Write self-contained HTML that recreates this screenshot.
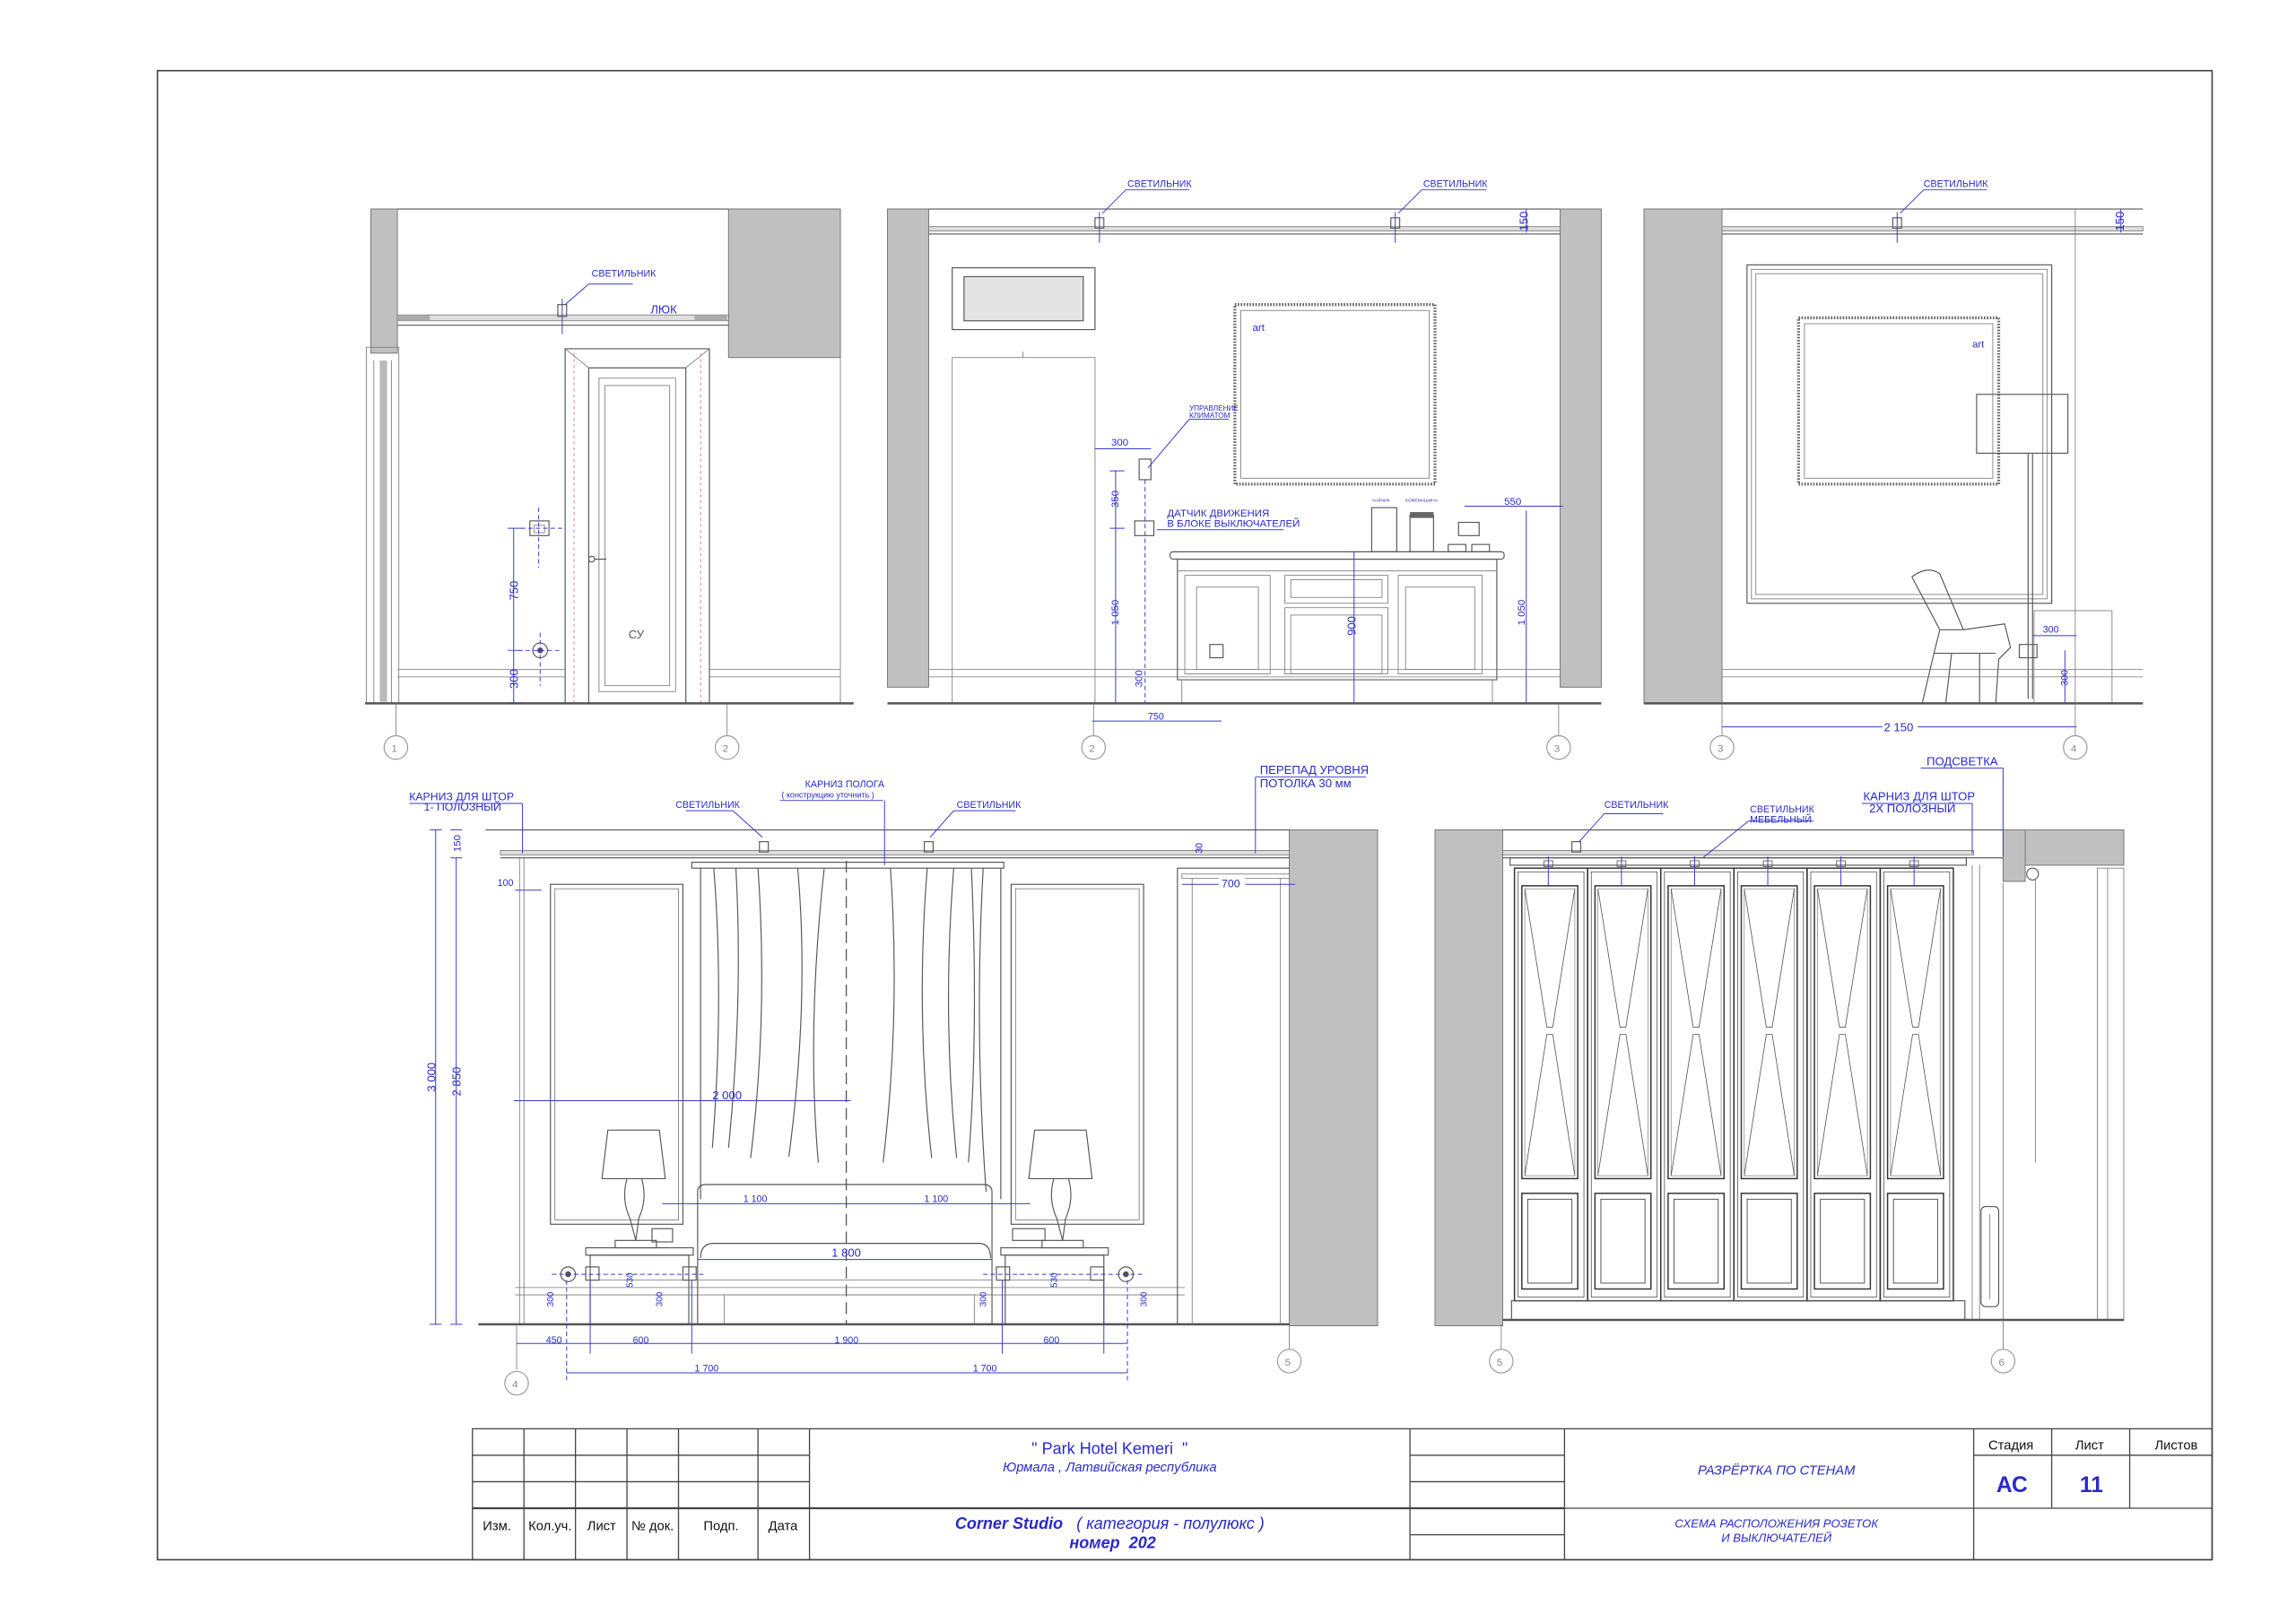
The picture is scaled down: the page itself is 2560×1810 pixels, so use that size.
<!DOCTYPE html>
<html><head><meta charset="utf-8">
<style>
html,body{margin:0;padding:0;background:#fff;}
svg{display:block;}
text{font-family:"Liberation Sans",sans-serif;}
.b{fill:#2a2ac8;}
.l{stroke:#555;stroke-width:0.7;fill:none;}
.t{stroke:#777;stroke-width:0.5;fill:none;}
.g{fill:#c0c0c0;stroke:#777;stroke-width:0.6;}
.d{stroke:#3a3ad0;stroke-width:0.6;fill:none;}
.dd{stroke:#3a3ad0;stroke-width:0.6;fill:none;stroke-dasharray:3 2;}
.c{fill:#fff;stroke:#999;stroke-width:0.7;}
.k{stroke:#333;stroke-width:1;fill:none;}
</style></head>
<body>
<svg width="2560" height="1810" viewBox="0 0 1560 1103" preserveAspectRatio="none" xmlns="http://www.w3.org/2000/svg">
<rect x="0" y="0" width="1560" height="1103" fill="#fff"/>
<!-- frame -->
<rect x="107" y="48" width="1396" height="1012" fill="none" stroke="#444" stroke-width="1"/>

<!-- ============ ELEVATION 1 ============ -->
<g>
<rect class="g" x="252" y="142" width="18" height="98"/>
<rect class="g" x="495" y="142" width="76" height="101"/>
<line class="l" x1="270" y1="142" x2="495" y2="142"/>
<rect x="270" y="214" width="225" height="4" fill="#ddd" stroke="#777" stroke-width="0.5"/>
<line class="l" x1="270" y1="221" x2="495" y2="221"/>
<rect x="270" y="214" width="22" height="4" fill="#aaa"/>
<rect x="472" y="214" width="22" height="4" fill="#aaa"/>
<rect class="l" x="379" y="207" width="6" height="8"/>
<line class="d" x1="382" y1="203" x2="382" y2="227"/>
<path class="d" d="M384 207 L400 193 L430 193"/>
<text class="b" x="402" y="188" font-size="6.5">СВЕТИЛЬНИК</text>
<text class="b" x="442" y="213" font-size="8">ЛЮК</text>
<!-- left window frame -->
<rect class="t" x="249" y="236" width="22" height="242"/>
<line class="t" x1="254" y1="245" x2="254" y2="478"/>
<line class="t" x1="266" y1="245" x2="266" y2="478"/>
<rect x="258" y="245" width="5" height="232" fill="#bbb"/>
<line class="t" x1="571" y1="243" x2="571" y2="478"/>
<!-- door -->
<path class="l" d="M384 478 V237 H482 V478"/>
<path class="t" d="M384 237 L400 250 H466 L482 237"/>
<rect class="l" x="400" y="250" width="66" height="228"/>
<rect class="t" x="407" y="257" width="52" height="213"/>
<rect class="t" x="411" y="262" width="44" height="204"/>
<line x1="390" y1="240" x2="390" y2="478" stroke="#d66" stroke-width="0.5" stroke-dasharray="2 2"/>
<line x1="476" y1="240" x2="476" y2="478" stroke="#d66" stroke-width="0.5" stroke-dasharray="2 2"/>
<circle class="l" cx="402" cy="380" r="2"/>
<line class="l" x1="404" y1="380" x2="412" y2="380"/>
<text x="427" y="434" font-size="8" fill="#555">СУ</text>
<!-- baseboard -->
<line class="t" x1="270" y1="455" x2="384" y2="455"/>
<line class="t" x1="270" y1="460" x2="384" y2="460"/>
<line class="t" x1="482" y1="455" x2="571" y2="455"/>
<line class="t" x1="482" y1="460" x2="571" y2="460"/>
<line x1="248" y1="478" x2="580" y2="478" stroke="#555" stroke-width="1.5"/>
<!-- switch / socket -->
<rect class="l" x="360" y="354" width="13" height="10"/><rect class="t" x="363" y="357" width="7" height="5"/>
<line class="dd" x1="366" y1="345" x2="366" y2="386"/>
<line class="dd" x1="354" y1="359" x2="382" y2="359"/>
<circle class="l" cx="367" cy="442" r="5"/><circle cx="367" cy="442" r="2" fill="#555"/>
<line class="dd" x1="367" y1="430" x2="367" y2="466"/>
<line class="dd" x1="352" y1="442" x2="382" y2="442"/>
<line class="d" x1="349" y1="359" x2="349" y2="478"/>
<line class="d" x1="345" y1="359" x2="355" y2="359"/>
<line class="d" x1="345" y1="442" x2="355" y2="442"/>
<line class="d" x1="345" y1="478" x2="355" y2="478"/>
<text class="b" font-size="8" transform="translate(352,408) rotate(-90)">750</text>
<text class="b" font-size="8" transform="translate(352,468) rotate(-90)">300</text>
<line class="t" x1="269" y1="478" x2="269" y2="500"/>
<line class="t" x1="494" y1="478" x2="494" y2="500"/>
<circle class="c" cx="269" cy="508" r="8"/><text x="266" y="511" font-size="7" fill="#888">1</text>
<circle class="c" cx="494" cy="508" r="8"/><text x="491" y="511" font-size="7" fill="#888">2</text>
</g>

<!-- ============ ELEVATION 2 ============ -->
<g>
<rect class="g" x="603" y="142" width="28" height="325"/>
<rect class="g" x="1060" y="142" width="28" height="325"/>
<line class="l" x1="631" y1="142" x2="1060" y2="142"/>
<rect x="631" y="154" width="429" height="3" fill="#ddd" stroke="#777" stroke-width="0.5"/>
<line class="l" x1="631" y1="159" x2="1060" y2="159"/>
<rect class="l" x="744" y="148" width="6" height="7"/><line class="d" x1="747" y1="144" x2="747" y2="165"/>
<rect class="l" x="945" y="148" width="6" height="7"/><line class="d" x1="948" y1="144" x2="948" y2="165"/>
<path class="d" d="M749 145 L765 129 L808 129"/><text class="b" x="766" y="127" font-size="6.5">СВЕТИЛЬНИК</text>
<path class="d" d="M950 145 L966 129 L1010 129"/><text class="b" x="967" y="127" font-size="6.5">СВЕТИЛЬНИК</text>
<line class="d" x1="1037" y1="142" x2="1037" y2="158"/>
<text class="b" font-size="8" transform="translate(1038,157) rotate(-90)">150</text>
<!-- vent -->
<rect class="l" x="647" y="182" width="97" height="42"/>
<rect x="655" y="188" width="81" height="30" fill="#e4e4e4" stroke="#666" stroke-width="0.8"/>
<!-- opening -->
<rect class="t" x="647" y="243" width="97" height="235"/>
<line class="t" x1="695" y1="239" x2="695" y2="243"/>
<!-- mirror -->
<rect x="839" y="207" width="136" height="122" fill="none" stroke="#666" stroke-width="2" stroke-dasharray="1 1"/>
<rect class="t" x="843" y="211" width="128" height="114"/>
<text class="b" x="851" y="225" font-size="7">art</text>
<!-- labels -->
<text class="b" x="808" y="279" font-size="5">УПРАВЛЕНИЕ</text>
<text class="b" x="808" y="284" font-size="5">КЛИМАТОМ</text>
<path class="d" d="M835 285 L808 285 L780 318"/>
<rect class="l" x="774" y="312" width="8" height="14"/>
<line class="dd" x1="778" y1="326" x2="778" y2="478"/>
<line class="d" x1="744" y1="305" x2="782" y2="305"/><text class="b" x="755" y="303" font-size="7">300</text>
<text class="b" x="793" y="351" font-size="7">ДАТЧИК ДВИЖЕНИЯ</text>
<text class="b" x="793" y="358" font-size="7">В БЛОКЕ ВЫКЛЮЧАТЕЛЕЙ</text>
<line class="d" x1="786" y1="360" x2="872" y2="360"/>
<rect class="l" x="771" y="354" width="13" height="10"/>
<line class="d" x1="758" y1="320" x2="758" y2="478"/>
<line class="d" x1="754" y1="320" x2="764" y2="320"/><line class="d" x1="754" y1="359" x2="764" y2="359"/><line class="d" x1="754" y1="478" x2="764" y2="478"/>
<text class="b" font-size="7" transform="translate(760,345) rotate(-90)">350</text>
<text class="b" font-size="7" transform="translate(760,425) rotate(-90)">1 050</text>
<text class="b" font-size="7" transform="translate(776,467) rotate(-90)">300</text>
<!-- cabinet -->
<rect class="l" x="795" y="375" width="227" height="5" rx="2"/>
<rect class="l" x="800" y="380" width="217" height="82"/>
<line class="t" x1="800" y1="388" x2="1017" y2="388"/>
<rect class="t" x="805" y="391" width="58" height="67"/>
<rect class="t" x="813" y="399" width="42" height="56"/>
<rect class="t" x="873" y="391" width="70" height="19"/>
<rect class="t" x="877" y="394" width="62" height="12"/>
<rect class="t" x="873" y="413" width="70" height="45"/>
<rect class="t" x="877" y="418" width="62" height="40"/>
<rect class="t" x="950" y="391" width="57" height="67"/>
<rect class="t" x="955" y="399" width="47" height="56"/>
<path class="t" d="M800 462 H1017 M803 462 V478 M1014 462 V478"/>
<rect class="l" x="822" y="438" width="9" height="9"/>
<!-- kettle and coffee -->
<rect class="l" x="932" y="345" width="17" height="30"/>
<rect class="l" x="958" y="350" width="16" height="25"/>
<rect x="958" y="348" width="16" height="4" fill="#666"/>
<text x="932" y="341" font-size="3" fill="#2a2ac8">ЧАЙНИК</text>
<text x="955" y="341" font-size="3" fill="#2a2ac8">КОФЕМАШИНА</text>
<rect class="l" x="984" y="370" width="12" height="5"/><rect class="l" x="1000" y="370" width="12" height="5"/>
<rect class="l" x="991" y="355" width="14" height="9"/>
<line class="d" x1="995" y1="344" x2="1062" y2="344"/><text class="b" x="1022" y="343" font-size="7">550</text>
<line class="d" x1="1037" y1="347" x2="1037" y2="478"/>
<text class="b" font-size="7" transform="translate(1036,425) rotate(-90)">1 050</text>
<line class="d" x1="920" y1="375" x2="920" y2="478"/>
<text class="b" font-size="8" transform="translate(921,432) rotate(-90)">900</text>
<line class="t" x1="631" y1="455" x2="1060" y2="455"/>
<line class="t" x1="631" y1="460" x2="1060" y2="460"/>
<line x1="603" y1="478" x2="1088" y2="478" stroke="#555" stroke-width="1.5"/>
<line class="d" x1="742" y1="490" x2="830" y2="490"/><text class="b" x="780" y="489" font-size="6.5">750</text>
<line class="t" x1="743" y1="478" x2="743" y2="500"/><line class="t" x1="1059" y1="478" x2="1059" y2="500"/>
<circle class="c" cx="743" cy="508" r="8"/><text x="740" y="511" font-size="7" fill="#888">2</text>
<circle class="c" cx="1059" cy="508" r="8"/><text x="1056" y="511" font-size="7" fill="#888">3</text>
</g>

<!-- ============ ELEVATION 3 ============ -->
<g>
<rect class="g" x="1117" y="142" width="53" height="336"/>
<line class="l" x1="1170" y1="142" x2="1456" y2="142"/>
<rect x="1170" y="154" width="286" height="3" fill="#ddd" stroke="#777" stroke-width="0.5"/>
<line class="l" x1="1170" y1="159" x2="1456" y2="159"/>
<rect class="l" x="1286" y="148" width="6" height="7"/><line class="d" x1="1289" y1="144" x2="1289" y2="165"/>
<path class="d" d="M1291 145 L1307 129 L1350 129"/><text class="b" x="1307" y="127" font-size="6.5">СВЕТИЛЬНИК</text>
<line class="d" x1="1441" y1="142" x2="1441" y2="158"/>
<text class="b" font-size="8" transform="translate(1443,157) rotate(-90)">150</text>
<line class="t" x1="1410" y1="142" x2="1410" y2="478"/>
<rect class="l" x="1187" y="180" width="207" height="230"/>
<rect class="t" x="1190" y="183" width="201" height="224"/>
<rect class="t" x="1193" y="186" width="195" height="218"/>
<rect x="1222" y="216" width="136" height="113" fill="none" stroke="#666" stroke-width="2" stroke-dasharray="1 1"/>
<rect class="t" x="1226" y="220" width="128" height="105"/>
<text class="b" x="1340" y="236" font-size="7">art</text>
<rect class="l" x="1343" y="268" width="62" height="40"/>
<line class="l" x1="1378" y1="308" x2="1378" y2="475"/><line class="l" x1="1381" y1="308" x2="1381" y2="475"/>
<path class="l" d="M1299 392 Q1310 384 1318 390 L1334 428 L1362 424 L1366 440 L1358 448 L1356 478 M1299 392 L1318 428 L1314 444 L1306 478 M1318 428 L1334 428 M1314 444 L1356 444 M1326 444 L1322 478 M1345 444 L1345 478"/>
<rect class="t" x="1382" y="415" width="53" height="63"/>
<rect class="l" x="1372" y="438" width="12" height="9"/>
<line class="d" x1="1381" y1="432" x2="1411" y2="432"/><text class="b" x="1388" y="430" font-size="6.5">300</text>
<line class="d" x1="1403" y1="442" x2="1403" y2="478"/>
<text class="b" font-size="6.5" transform="translate(1405,466) rotate(-90)">300</text>
<line class="t" x1="1170" y1="455" x2="1456" y2="455"/>
<line class="t" x1="1170" y1="460" x2="1456" y2="460"/>
<line x1="1117" y1="478" x2="1456" y2="478" stroke="#555" stroke-width="1.5"/>
<line class="d" x1="1170" y1="494" x2="1411" y2="494"/>
<rect x="1279" y="489" width="24" height="10" fill="#fff"/>
<text class="b" x="1280" y="497" font-size="8">2 150</text>
<line class="t" x1="1170" y1="478" x2="1170" y2="500"/><line class="t" x1="1410" y1="478" x2="1410" y2="500"/>
<circle class="c" cx="1170" cy="508" r="8"/><text x="1167" y="511" font-size="7" fill="#888">3</text>
<circle class="c" cx="1410" cy="508" r="8"/><text x="1407" y="511" font-size="7" fill="#888">4</text>
</g>

<!-- ============ ELEVATION 4 ============ -->
<g>
<rect class="g" x="876" y="564" width="60" height="337"/>
<line class="l" x1="330" y1="564" x2="876" y2="564"/>
<rect x="340" y="578" width="536" height="3" fill="#ddd" stroke="#777" stroke-width="0.5"/>
<line class="l" x1="340" y1="583" x2="876" y2="583"/>
<!-- canopy rail -->
<rect class="l" x="470" y="586" width="212" height="4"/>
<!-- lights -->
<rect class="l" x="516" y="572" width="6" height="7"/><rect class="l" x="628" y="572" width="6" height="7"/>
<path class="d" d="M518 569 L498 551 L466 551"/><text class="b" x="459" y="549" font-size="6.5">СВЕТИЛЬНИК</text>
<path class="d" d="M632 569 L648 551 L690 551"/><text class="b" x="650" y="549" font-size="6.5">СВЕТИЛЬНИК</text>
<text class="b" x="547" y="535" font-size="6.5">КАРНИЗ ПОЛОГА</text>
<text class="b" x="531" y="542" font-size="5.5">( конструкцию уточнить )</text>
<line class="d" x1="530" y1="544" x2="600" y2="544"/>
<line class="d" x1="601" y1="544" x2="601" y2="588"/>
<text class="b" x="278" y="544" font-size="7.5">КАРНИЗ ДЛЯ ШТОР</text>
<text class="b" x="288" y="551" font-size="7.5">1- ПОЛОЗНЫЙ</text>
<line class="d" x1="278" y1="546" x2="355" y2="546"/>
<line class="d" x1="355" y1="546" x2="355" y2="580"/>
<text class="b" x="856" y="526" font-size="8">ПЕРЕПАД УРОВНЯ</text>
<text class="b" x="856" y="535" font-size="8">ПОТОЛКА 30 мм</text>
<line class="d" x1="853" y1="528" x2="928" y2="528"/>
<line class="d" x1="853" y1="528" x2="853" y2="580"/>
<!-- curtain rod left -->
<line class="t" x1="353" y1="583" x2="353" y2="900"/><line class="t" x1="356" y1="583" x2="356" y2="900"/>
<line class="d" x1="350" y1="605" x2="368" y2="605"/><text class="b" x="338" y="602" font-size="6.5">100</text>
<!-- panels -->
<rect class="l" x="374" y="601" width="90" height="231"/>
<rect class="t" x="377" y="604" width="84" height="225"/>
<rect class="l" x="687" y="601" width="90" height="231"/>
<rect class="t" x="690" y="604" width="84" height="225"/>
<!-- curtains -->
<path class="l" d="M476 590 V815 M680 590 V815"/>
<path class="l" d="M485 590 Q492 680 484 780 M500 590 Q505 680 495 780 M515 590 Q522 690 510 787 M542 590 Q550 680 536 786 M560 590 Q548 700 556 790 M605 590 Q612 690 600 790 M630 590 Q622 690 633 787 M648 590 Q640 690 650 787 M660 590 Q665 700 658 790 M668 590 Q662 700 670 810"/>
<line x1="575" y1="585" x2="575" y2="900" stroke="#555" stroke-width="0.8" stroke-dasharray="8 4"/>
<!-- bed -->
<path class="l" d="M474 815 V810 Q474 805 480 805 H668 Q674 805 674 810 V900"/>
<path class="l" d="M474 815 V900"/>
<path class="l" d="M476 855 Q476 845 485 845 H665 Q673 845 673 855"/>
<line class="t" x1="474" y1="870" x2="674" y2="870"/>
<rect class="t" x="492" y="880" width="170" height="20"/>
<!-- nightstands -->
<rect class="l" x="398" y="848" width="73" height="5"/><rect class="l" x="401" y="853" width="67" height="47"/>
<line class="t" x1="401" y1="870" x2="468" y2="870"/>
<rect class="l" x="680" y="848" width="73" height="5"/><rect class="l" x="683" y="853" width="67" height="47"/>
<line class="t" x1="683" y1="870" x2="750" y2="870"/>
<!-- lamps -->
<path class="l" d="M413 768 H448 L452 801 H409 Z"/>
<path class="l" d="M426 801 Q422 815 428 828 L432 843 M436 801 Q440 815 434 828 L432 843"/>
<rect class="l" x="418" y="843" width="28" height="5"/>
<path class="l" d="M703 768 H738 L742 801 H699 Z"/>
<path class="l" d="M716 801 Q712 815 718 828 L722 843 M726 801 Q730 815 724 828 L722 843"/>
<rect class="l" x="708" y="843" width="28" height="5"/>
<!-- switches -->
<rect class="l" x="443" y="835" width="14" height="9"/>
<rect class="l" x="688" y="835" width="22" height="8"/>
<g class="l"><circle cx="386" cy="866" r="5"/><circle cx="765" cy="866" r="5"/></g>
<circle cx="386" cy="866" r="2" fill="#555"/><circle cx="765" cy="866" r="2" fill="#555"/>
<rect class="l" x="398" y="861" width="9" height="9"/><rect class="l" x="464" y="861" width="9" height="9"/>
<rect class="l" x="677" y="861" width="9" height="9"/><rect class="l" x="741" y="861" width="9" height="9"/>
<line class="dd" x1="375" y1="866" x2="478" y2="866"/><line class="dd" x1="668" y1="866" x2="776" y2="866"/>
<!-- baseboard -->
<line class="t" x1="350" y1="875" x2="805" y2="875"/><line class="t" x1="350" y1="880" x2="805" y2="880"/>
<line x1="325" y1="900" x2="876" y2="900" stroke="#555" stroke-width="1.5"/>
<!-- door right -->
<path class="l" d="M800 900 V590 H876"/><rect class="t" x="803" y="594" width="73" height="3"/>
<line class="t" x1="810" y1="597" x2="810" y2="900"/><line class="t" x1="870" y1="597" x2="870" y2="900"/>
<line class="d" x1="803" y1="601" x2="880" y2="601"/><rect x="828" y="596" width="18" height="9" fill="#fff"/><text class="b" x="830" y="603" font-size="7.5">700</text>
<text class="b" font-size="6.5" transform="translate(817,580) rotate(-90)">30</text>
<!-- dims vertical -->
<line class="d" x1="296" y1="564" x2="296" y2="900"/><line class="d" x1="310" y1="583" x2="310" y2="900"/>
<line class="d" x1="292" y1="564" x2="300" y2="564"/><line class="d" x1="306" y1="583" x2="314" y2="583"/>
<line class="d" x1="292" y1="900" x2="300" y2="900"/><line class="d" x1="306" y1="900" x2="314" y2="900"/>
<line class="d" x1="306" y1="564" x2="314" y2="564"/>
<text class="b" font-size="8" transform="translate(296,742) rotate(-90)">3 000</text>
<text class="b" font-size="8" transform="translate(313,745) rotate(-90)">2 850</text>
<text class="b" font-size="7" transform="translate(313,579) rotate(-90)">150</text>
<!-- horizontal dims -->
<line class="d" x1="349" y1="748" x2="578" y2="748"/><text class="b" x="484" y="747" font-size="8">2 000</text>
<line class="d" x1="450" y1="818" x2="700" y2="818"/><text class="b" x="505" y="817" font-size="6.5">1 100</text><text class="b" x="628" y="817" font-size="6.5">1 100</text>
<line class="d" x1="474" y1="856" x2="674" y2="856"/><text class="b" x="565" y="854" font-size="8">1 800</text>
<line class="d" x1="351" y1="913" x2="766" y2="913"/>
<text class="b" x="371" y="913" font-size="6.5">450</text><text class="b" x="430" y="913" font-size="6.5">600</text><text class="b" x="567" y="913" font-size="6.5">1 900</text><text class="b" x="709" y="913" font-size="6.5">600</text>
<line class="d" x1="385" y1="933" x2="766" y2="933"/>
<text class="b" x="472" y="932" font-size="6.5">1 700</text><text class="b" x="661" y="932" font-size="6.5">1 700</text>
<line class="dd" x1="385" y1="870" x2="385" y2="940"/><line class="dd" x1="766" y1="870" x2="766" y2="940"/>
<line class="d" x1="401" y1="870" x2="401" y2="920"/><line class="d" x1="470" y1="870" x2="470" y2="920"/><line class="d" x1="681" y1="870" x2="681" y2="920"/><line class="d" x1="750" y1="870" x2="750" y2="920"/>
<text class="b" font-size="6" transform="translate(376,888) rotate(-90)">300</text>
<text class="b" font-size="6" transform="translate(430,875) rotate(-90)">530</text>
<text class="b" font-size="6" transform="translate(450,888) rotate(-90)">300</text>
<text class="b" font-size="6" transform="translate(670,888) rotate(-90)">300</text>
<text class="b" font-size="6" transform="translate(718,875) rotate(-90)">530</text>
<text class="b" font-size="6" transform="translate(779,888) rotate(-90)">300</text>
<line class="t" x1="351" y1="900" x2="351" y2="931"/><line class="t" x1="876" y1="900" x2="876" y2="917"/>
<circle class="c" cx="351" cy="940" r="8"/><text x="348" y="943" font-size="7" fill="#888">4</text>
<circle class="c" cx="876" cy="925" r="8"/><text x="873" y="928" font-size="7" fill="#888">5</text>
</g>

<!-- ============ ELEVATION 5 ============ -->
<defs>
<g id="door">
<rect x="0" y="0" width="49.7" height="294" fill="none" stroke="#333" stroke-width="0.9"/>
<rect x="2.5" y="2.5" width="44.7" height="289" fill="none" stroke="#555" stroke-width="0.5"/>
<rect x="5" y="12" width="38" height="199" fill="none" stroke="#333" stroke-width="0.9"/>
<rect x="7" y="14" width="34" height="195" fill="none" stroke="#777" stroke-width="0.4"/>
<path d="M7 14 L22 108 H26 L41 14 M7 209 L22 113 H26 L41 209" fill="none" stroke="#555" stroke-width="0.5"/>
<rect x="5" y="221" width="38" height="65" fill="none" stroke="#333" stroke-width="0.9"/>
<rect x="9" y="225" width="30" height="57" fill="none" stroke="#555" stroke-width="0.6"/>
<line x1="23" y1="-8" x2="23" y2="12" stroke="#3a3ad0" stroke-width="0.6"/>
<rect x="20" y="-5" width="6" height="4" fill="none" stroke="#555" stroke-width="0.5"/>
</g>
</defs>
<g>
<rect class="g" x="975" y="564" width="46" height="337"/>
<rect class="g" x="1361" y="564" width="82" height="24"/>
<rect class="g" x="1361" y="564" width="15" height="35"/>
<line class="l" x1="1021" y1="564" x2="1361" y2="564"/>
<rect x="1021" y="578" width="320" height="3" fill="#ddd" stroke="#777" stroke-width="0.5"/>
<line class="l" x1="1021" y1="583" x2="1361" y2="583"/>
<rect class="l" x="1026" y="583" width="310" height="5"/>
<use href="#door" x="1029" y="590"/>
<use href="#door" x="1078.7" y="590"/>
<use href="#door" x="1128.4" y="590"/>
<use href="#door" x="1178.1" y="590"/>
<use href="#door" x="1227.8" y="590"/>
<use href="#door" x="1277.5" y="590"/>
<rect class="l" x="1027" y="884" width="308" height="13"/>
<rect class="l" x="1068" y="572" width="6" height="7"/>
<path class="d" d="M1073 572 L1090 553 L1130 553"/><text class="b" x="1090" y="549" font-size="6.5">СВЕТИЛЬНИК</text>
<path class="d" d="M1157 583 L1188 558 L1232 558"/><text class="b" x="1189" y="552" font-size="6.5">СВЕТИЛЬНИК</text><text class="b" x="1189" y="559" font-size="6.5">МЕБЕЛЬНЫЙ</text>
<text class="b" x="1266" y="544" font-size="8">КАРНИЗ ДЛЯ ШТОР</text>
<text class="b" x="1270" y="552" font-size="8">2Х ПОЛОЗНЫЙ</text>
<line class="d" x1="1265" y1="546" x2="1340" y2="546"/><line class="d" x1="1340" y1="546" x2="1340" y2="580"/>
<text class="b" x="1309" y="520" font-size="8">ПОДСВЕТКА</text>
<line class="d" x1="1305" y1="522" x2="1361" y2="522"/><line class="d" x1="1361" y1="522" x2="1361" y2="582"/>
<!-- window region right -->
<line class="t" x1="1340" y1="588" x2="1340" y2="897"/><line class="t" x1="1345" y1="588" x2="1345" y2="897"/>
<line class="t" x1="1361" y1="600" x2="1361" y2="897"/>
<circle class="l" cx="1381" cy="594" r="4"/>
<line class="t" x1="1383" y1="598" x2="1383" y2="790"/>
<rect class="t" x="1425" y="590" width="18" height="307"/><line class="t" x1="1432" y1="590" x2="1432" y2="897"/>
<rect class="l" x="1346" y="820" width="12" height="68" rx="3"/>
<line class="t" x1="1352" y1="825" x2="1352" y2="883"/>
<line x1="1021" y1="897" x2="1443" y2="897" stroke="#555" stroke-width="1.5"/>
<line class="t" x1="1020" y1="900" x2="1020" y2="917"/><line class="t" x1="1361" y1="897" x2="1361" y2="917"/>
<circle class="c" cx="1020" cy="925" r="8"/><text x="1017" y="928" font-size="7" fill="#888">5</text>
<circle class="c" cx="1361" cy="925" r="8"/><text x="1358" y="928" font-size="7" fill="#888">6</text>
</g>

<!-- ============ TITLE BLOCK ============ -->
<g stroke="#444" stroke-width="0.8" fill="none">
<rect x="321" y="971" width="1182" height="89"/>
<line x1="321" y1="989" x2="550" y2="989"/>
<line x1="321" y1="1007" x2="550" y2="1007"/>
<line x1="321" y1="1025" x2="1063" y2="1025" stroke-width="1.4"/>
<line x1="958" y1="989" x2="1063" y2="989"/>
<line x1="958" y1="1007" x2="1063" y2="1007"/>
<line x1="958" y1="1043" x2="1063" y2="1043"/>
<line x1="1341" y1="989" x2="1503" y2="989"/>
<line x1="1063" y1="1025" x2="1503" y2="1025"/>
<line x1="356" y1="971" x2="356" y2="1060"/>
<line x1="391" y1="971" x2="391" y2="1060"/>
<line x1="426" y1="971" x2="426" y2="1060"/>
<line x1="461" y1="971" x2="461" y2="1060"/>
<line x1="515" y1="971" x2="515" y2="1060"/>
<line x1="550" y1="971" x2="550" y2="1060"/>
<line x1="958" y1="971" x2="958" y2="1060"/>
<line x1="1063" y1="971" x2="1063" y2="1060"/>
<line x1="1341" y1="971" x2="1341" y2="1060"/>
<line x1="1394" y1="971" x2="1394" y2="1025"/>
<line x1="1447" y1="971" x2="1447" y2="1025"/>
</g>
<g font-size="9" fill="#111">
<text x="328" y="1040">Изм.</text>
<text x="359" y="1040">Кол.уч.</text>
<text x="399" y="1040">Лист</text>
<text x="429" y="1040">№ док.</text>
<text x="478" y="1040">Подп.</text>
<text x="522" y="1040">Дата</text>
<text x="1351" y="985">Стадия</text>
<text x="1410" y="985">Лист</text>
<text x="1464" y="985">Листов</text>
</g>
<text class="b" x="754" y="988" font-size="11" text-anchor="middle">" Park Hotel Kemeri&#160; "</text>
<text class="b" x="754" y="1000" font-size="9" font-style="italic" text-anchor="middle">Юрмала , Латвийская республика</text>
<text class="b" x="754" y="1039" font-size="11" font-style="italic" font-weight="bold" text-anchor="middle">Corner Studio&#160;&#160; <tspan font-weight="normal">( категория - полулюкс )</tspan></text>
<text class="b" x="756" y="1052" font-size="11" font-style="italic" font-weight="bold" text-anchor="middle">номер&#160; 202</text>
<text class="b" x="1207" y="1002" font-size="9" font-style="italic" text-anchor="middle">РАЗРЁРТКА ПО СТЕНАМ</text>
<text class="b" x="1207" y="1038" font-size="8" font-style="italic" text-anchor="middle">СХЕМА РАСПОЛОЖЕНИЯ РОЗЕТОК</text>
<text class="b" x="1207" y="1048" font-size="8" font-style="italic" text-anchor="middle">И ВЫКЛЮЧАТЕЛЕЙ</text>
<text class="b" x="1367" y="1014" font-size="15" font-weight="bold" text-anchor="middle">АС</text>
<text class="b" x="1421" y="1014" font-size="15" font-weight="bold" text-anchor="middle">11</text>
</svg>
</body></html>
